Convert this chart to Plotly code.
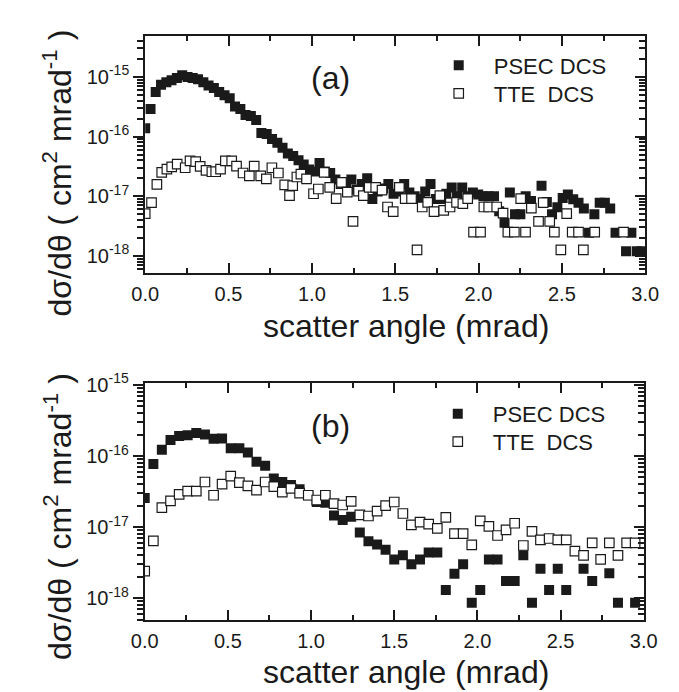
import plotly.graph_objects as go

# ---------------- data ----------------
# Panel (a)
psec_a_x = [0.000, 0.032, 0.063, 0.095, 0.127, 0.158, 0.190, 0.222, 0.254, 0.285,
            0.317, 0.349, 0.380, 0.412, 0.444, 0.476, 0.507, 0.539, 0.571, 0.602,
            0.634, 0.666, 0.697, 0.729, 0.761, 0.793, 0.824, 0.856, 0.888, 0.920,
            0.951, 0.983, 1.015, 1.046, 1.078, 1.110, 1.141, 1.173, 1.205, 1.237,
            1.268, 1.300, 1.332, 1.363, 1.395, 1.427, 1.459, 1.490, 1.522, 1.554,
            1.585, 1.617, 1.649, 1.680, 1.712, 1.744, 1.776, 1.807, 1.839, 1.871,
            1.902, 1.934, 1.966, 1.998, 2.029, 2.061, 2.093, 2.124, 2.156, 2.188,
            2.219, 2.251, 2.283, 2.315, 2.378, 2.410, 2.441, 2.473, 2.505, 2.536,
            2.568, 2.600, 2.632, 2.663, 2.695, 2.727, 2.758, 2.790, 2.822, 2.885,
            2.917, 2.949, 2.980]
psec_a_y = [1.38e-16, 2.9e-16, 5.6e-16, 7.4e-16, 8.1e-16, 8.8e-16, 9.6e-16, 1.07e-15, 1.0e-15, 9.6e-16,
            9.1e-16, 8.1e-16, 7.2e-16, 6.5e-16, 5.6e-16, 4.9e-16, 4.4e-16, 3.2e-16, 2.9e-16, 2.3e-16,
            2.2e-16, 1.9e-16, 1.15e-16, 1.1e-16, 9.1e-17, 7.9e-17, 6.5e-17, 5.2e-17, 4.7e-17, 4.0e-17,
            3.4e-17, 2.8e-17, 2.6e-17, 3.6e-17, 2.6e-17, 2.45e-17, 1.9e-17, 1.6e-17, 1.6e-17, 1.9e-17,
            1.3e-17, 1.6e-17, 2.0e-17, 9.0e-18, 1.2e-17, 1.35e-17, 1.6e-17, 1.1e-17, 1.2e-17, 1.6e-17,
            1.15e-17, 1.0e-17, 9.0e-18, 1.2e-17, 1.6e-17, 9.0e-18, 9.0e-18, 1.1e-17, 1.4e-17, 1.0e-17,
            1.4e-17, 1.0e-17, 1.15e-17, 1.07e-17, 1.0e-17, 1.0e-17, 1.0e-17, 5.6e-18, 3.6e-18, 1.15e-17,
            5.0e-18, 5.0e-18, 1.0e-17, 8.3e-18, 1.5e-17, 8.0e-18, 5.0e-18, 6.5e-18, 9.3e-18, 1.07e-17,
            8.9e-18, 7.8e-18, 6.2e-18, 2.45e-18, 5.0e-18, 7.8e-18, 7.8e-18, 6.2e-18, 2.45e-18, 1.2e-18,
            2.45e-18, 1.2e-18, 1.2e-18]

tte_a_x = [0.000, 0.038, 0.070, 0.099, 0.130, 0.159, 0.192, 0.240, 0.269, 0.303,
           0.330, 0.365, 0.400, 0.423, 0.452, 0.481, 0.519, 0.548, 0.587, 0.625,
           0.654, 0.693, 0.727, 0.760, 0.799, 0.837, 0.866, 0.885, 0.910, 0.934,
           0.968, 1.010, 1.039, 1.074, 1.107, 1.146, 1.178, 1.213, 1.247, 1.280,
           1.309, 1.344, 1.383, 1.421, 1.454, 1.488, 1.525, 1.560, 1.598, 1.631,
           1.662, 1.695, 1.733, 1.768, 1.791, 1.829, 1.868, 1.906, 1.935, 1.970,
           2.012, 2.032, 2.061, 2.109, 2.147, 2.176, 2.215, 2.253, 2.282, 2.317,
           2.360, 2.388, 2.427, 2.455, 2.494, 2.529, 2.562, 2.600, 2.629, 2.697,
           2.870]
tte_a_y = [5.1e-18, 7.8e-18, 1.58e-17, 2.5e-17, 2.85e-17, 3.1e-17, 3.45e-17, 3.0e-17, 3.9e-17, 3.8e-17,
           3.16e-17, 2.7e-17, 2.57e-17, 2.57e-17, 2.85e-17, 3.9e-17, 3.9e-17, 3.2e-17, 2.45e-17, 2.2e-17,
           3.2e-17, 2.2e-17, 1.95e-17, 3.0e-17, 2.45e-17, 1.55e-17, 1.02e-17, 1.51e-17, 2.1e-17, 2.35e-17,
           1.95e-17, 1.1e-17, 1.32e-17, 2.5e-17, 1.41e-17, 9.1e-18, 1.7e-17, 1.17e-17, 3.8e-18, 1.22e-17,
           1.02e-17, 1.41e-17, 1.41e-17, 1.26e-17, 6.6e-18, 5.5e-18, 1.41e-17, 9.1e-18, 9.1e-18, 1.26e-18,
           6.6e-18, 7.9e-18, 5.5e-18, 1.02e-17, 5.8e-18, 6.6e-18, 7.9e-18, 7.5e-18, 9.1e-18, 2.5e-18,
           2.5e-18, 6.6e-18, 6.6e-18, 6.6e-18, 5.2e-18, 2.5e-18, 2.5e-18, 9.1e-18, 2.5e-18, 6.3e-18,
           3.8e-18, 7.8e-18, 3.8e-18, 2.5e-18, 1.26e-18, 5.1e-18, 2.5e-18, 2.5e-18, 1.26e-18, 2.5e-18,
           2.5e-18]

# Panel (b)
angle_b = [0.000, 0.052, 0.103, 0.155, 0.207, 0.258, 0.310, 0.362, 0.414, 0.465,
           0.517, 0.569, 0.620, 0.672, 0.724, 0.776, 0.827, 0.879, 0.931, 0.983,
           1.034, 1.086, 1.138, 1.190, 1.241, 1.293, 1.345, 1.397, 1.448, 1.500,
           1.552, 1.603, 1.655, 1.707, 1.759, 1.810, 1.862, 1.914, 1.966, 2.017,
           2.069, 2.121, 2.172, 2.224, 2.276, 2.328, 2.379, 2.431, 2.483, 2.534,
           2.586, 2.638, 2.690, 2.741, 2.793, 2.845, 2.897, 2.948]
psec_b = [2.56e-17, 7.7e-17, 1.22e-16, 1.68e-16, 1.9e-16, 1.95e-16, 2.1e-16, 2.0e-16, 1.74e-16, 1.76e-16,
          1.28e-16, 1.28e-16, 1.12e-16, 8.3e-17, 7.3e-17, 4.8e-17, 4.3e-17, 3.9e-17, 3.4e-17, 2.8e-17,
          2.25e-17, 2.2e-17, 1.45e-17, 1.26e-17, 1.4e-17, 8.4e-18, 6.3e-18, 5.7e-18, 4.8e-18, 3.5e-18,
          4.0e-18, 3.0e-18, 3.5e-18, 4.4e-18, 4.4e-18, 1.3e-18, 2.2e-18, 3.0e-18, 8.6e-19, 1.3e-18,
          3.5e-18, 3.5e-18, 1.75e-18, 1.75e-18, 4.0e-18, 8.6e-19, 2.6e-18, 1.3e-18, 2.6e-18, 1.3e-18,
          None, 2.6e-18, 1.75e-18, None, 2.24e-18, 8.6e-19, None, 8.6e-19]
tte_b = [2.4e-18, 6.4e-18, 1.87e-17, 2.33e-17, 2.87e-17, 3.2e-17, 3.2e-17, 4.3e-17, 2.8e-17, 4.0e-17,
         5.2e-17, 4.2e-17, 3.8e-17, 3.3e-17, 4.3e-17, 3.7e-17, 3.1e-17, 3.5e-17, 3.0e-17, 2.8e-17,
         2.4e-17, 2.8e-17, 2.14e-17, 2.04e-17, 2.3e-17, 1.48e-17, 1.43e-17, 1.67e-17, 2.0e-17, 2.25e-17,
         1.55e-17, 1.07e-17, 1.17e-17, 1.1e-17, 9.6e-18, 1.37e-17, 8.1e-18, 8.1e-18, 5.6e-18, 1.22e-17,
         1.02e-17, 7.6e-18, 9.1e-18, 1.13e-17, 5.5e-18, 8.7e-18, 6.6e-18, 6.9e-18, 6.6e-18, 6.6e-18,
         4.6e-18, 4.0e-18, 6.0e-18, 3.5e-18, 6.0e-18, 4.0e-18, 6.0e-18, 6.0e-18]

x_ticks = [0.0, 0.5, 1.0, 1.5, 2.0, 2.5, 3.0]
y_ticks = [1e-18, 1e-17, 1e-16, 1e-15]
y_tick_text = ["10<sup>-18</sup>", "10<sup>-17</sup>", "10<sup>-16</sup>", "10<sup>-15</sup>"]
y_minor = [m * 10.0 ** e for e in range(-19, -14) for m in range(2, 10)]

name_psec = "PSEC DCS"
name_tte = "TTE\u00a0 DCS"
x_title = "scatter angle (mrad)"
y_title = "d\u03c3/d\u03b8 ( cm<sup>2</sup> mrad<sup>-1</sup> )"

# ---------------- figure ----------------
W, H = 679, 692
FONT = "Liberation Sans, Arial, sans-serif"
INK = "#1a1a1a"

def px_x(p):
    return p / W

def px_y(p):
    return 1 - p / H

filled = dict(symbol="square", size=10, color=INK, line=dict(width=0))
hollow = dict(symbol="square", size=9.5, color="white", line=dict(width=1.2, color=INK))

fig = go.Figure()
fig.add_trace(go.Scatter(x=psec_a_x, y=psec_a_y, mode="markers", name=name_psec,
                         marker=filled, xaxis="x", yaxis="y", legend="legend"))
fig.add_trace(go.Scatter(x=tte_a_x, y=tte_a_y, mode="markers", name=name_tte,
                         marker=hollow, xaxis="x", yaxis="y", legend="legend2"))
fig.add_trace(go.Scatter(x=angle_b, y=psec_b, mode="markers", name=name_psec,
                         marker=filled, xaxis="x2", yaxis="y2", legend="legend3"))
fig.add_trace(go.Scatter(x=angle_b, y=tte_b, mode="markers", name=name_tte,
                         marker=hollow, xaxis="x2", yaxis="y2", legend="legend4"))
# empty traces so that the right-hand mirror axes are drawn
fig.add_trace(go.Scatter(x=[None], y=[None], xaxis="x", yaxis="y3", showlegend=False, hoverinfo="skip"))
fig.add_trace(go.Scatter(x=[None], y=[None], xaxis="x2", yaxis="y4", showlegend=False, hoverinfo="skip"))

tickfont = dict(family=FONT, size=20, color=INK)

def xaxis_cfg(anchor, domain):
    return dict(
        anchor=anchor, domain=domain, range=[0, 3.0], tickvals=x_ticks, tickformat=".1f",
        ticks="inside", ticklen=10, tickwidth=2, tickcolor=INK,
        minor=dict(dtick=0.25, tick0=0, ticks="inside", ticklen=5, tickwidth=2, tickcolor=INK),
        showline=True, linewidth=2, linecolor=INK, mirror="ticks",
        showgrid=False, zeroline=False, tickfont=tickfont, ticklabelstandoff=2,
    )

def yaxis_cfg(anchor, domain, rng):
    return dict(
        anchor=anchor, domain=domain, type="log", range=rng,
        tickvals=y_ticks, ticktext=y_tick_text,
        ticks="outside", ticklen=10, tickwidth=2, tickcolor=INK,
        minor=dict(tickvals=y_minor, ticks="outside", ticklen=6, tickwidth=1.5, tickcolor=INK),
        showline=True, linewidth=2, linecolor=INK, mirror=True,
        showgrid=False, zeroline=False, tickfont=tickfont,
    )

def ymirror_cfg(over, anchor, rng):
    return dict(
        overlaying=over, anchor=anchor, side="right", type="log", range=rng,
        tickvals=y_ticks, showticklabels=False,
        ticks="inside", ticklen=10, tickwidth=2, tickcolor=INK,
        minor=dict(tickvals=y_minor, ticks="inside", ticklen=6, tickwidth=1.5, tickcolor=INK),
        showline=False, showgrid=False, zeroline=False,
    )

rng_a = [-18.29, -14.31]
rng_b = [-18.31, -14.98]
xdom_a = [px_x(128.5), px_x(650)]
xdom_b = [px_x(128.0), px_x(648.5)]
ydom_a = [px_y(257), px_y(15)]
ydom_b = [px_y(610.7), px_y(369.3)]

def legend_at(left_px, top_px):
    return dict(x=px_x(left_px), y=px_y(top_px), xanchor="left", yanchor="top",
                font=dict(family=FONT, size=22, color=INK), bgcolor="rgba(0,0,0,0)",
                borderwidth=0, itemwidth=60)

fig.update_layout(
    width=W, height=H, margin=dict(l=0, r=0, t=0, b=0),
    paper_bgcolor="white", plot_bgcolor="white",
    font=dict(family=FONT, color=INK),
    xaxis=xaxis_cfg("y", xdom_a), xaxis2=xaxis_cfg("y2", xdom_b),
    yaxis=yaxis_cfg("x", ydom_a, rng_a),
    yaxis2=yaxis_cfg("x2", ydom_b, rng_b),
    yaxis3=ymirror_cfg("y", "x", rng_a),
    yaxis4=ymirror_cfg("y2", "x2", rng_b),
    legend=legend_at(419, 24),
    legend2=legend_at(419, 52.5),
    legend3=legend_at(418, 379),
    legend4=legend_at(418, 407.5),
    showlegend=True,
)

ann_font = dict(family=FONT, size=32, color=INK)
for yc in (155, 505):
    fig.add_annotation(text=y_title, x=px_x(37), y=px_y(yc), xref="paper", yref="paper",
                       textangle=-90, showarrow=False, font=ann_font,
                       xanchor="center", yanchor="middle")
for yc in (311, 663):
    fig.add_annotation(text=x_title, x=px_x(400), y=px_y(yc), xref="paper", yref="paper",
                       showarrow=False, font=dict(family=FONT, size=32, color=INK),
                       xanchor="center", yanchor="middle")
for lab, yc in (("(a)", 58), ("(b)", 413)):
    fig.add_annotation(text=lab, x=px_x(322), y=px_y(yc), xref="paper", yref="paper",
                       showarrow=False, font=dict(family=FONT, size=32, color=INK),
                       xanchor="center", yanchor="middle")

fig.write_html("out.html")
